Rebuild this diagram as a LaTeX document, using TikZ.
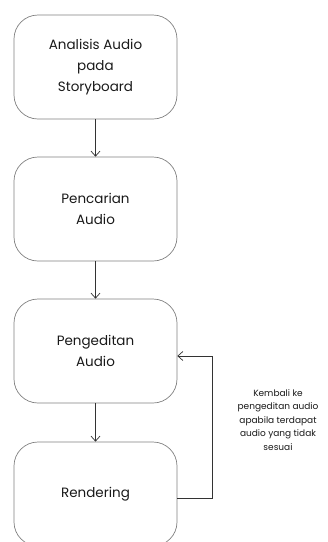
\documentclass[tikz,border=0pt]{standalone}
\usepackage{fontspec}
\setmainfont{Poppins}
\usetikzlibrary{arrows.meta}
\begin{document}
\begin{tikzpicture}[x=1pt,y=-1pt,
  box/.style={draw=black!50, line width=0.7pt, rounded corners=24pt, minimum width=163pt, minimum height=104pt, align=center, font=\fontsize{13.5}{21}\selectfont, text=black!90},
  conn/.style={draw=black!80, line width=0.7pt, -{Straight Barb[length=5pt,width=9pt]}},
  note/.style={align=center, font=\fontsize{9}{13.5}\selectfont, text=black!90}]
\useasboundingbox (0,0) rectangle (328,542);
\begin{scope}
\clip (0,0) rectangle (328,542);
\node[box] (a) at (95.5,67) {Analisis Audio\\pada\\Storyboard};
\node[box] (b) at (95.5,209) {Pencarian\\Audio};
\node[box] (c) at (95.5,351) {Pengeditan\\Audio};
\node[box] (d) at (95.5,494) {Rendering};
\end{scope}
\coordinate (e) at (212,498);
\coordinate (f) at (212,356);
\draw[conn] (a) -- (b);
\draw[conn] (b) -- (c);
\draw[conn] (c) -- (d);
\draw[conn] (d.east |- e) -- (e) -- (f) -- (c.east |- f);
\node[note] (n) at (278,420) {Kembali ke\\pengeditan audio\\apabila terdapat\\audio yang tidak\\sesuai};
\end{tikzpicture}
\end{document}
